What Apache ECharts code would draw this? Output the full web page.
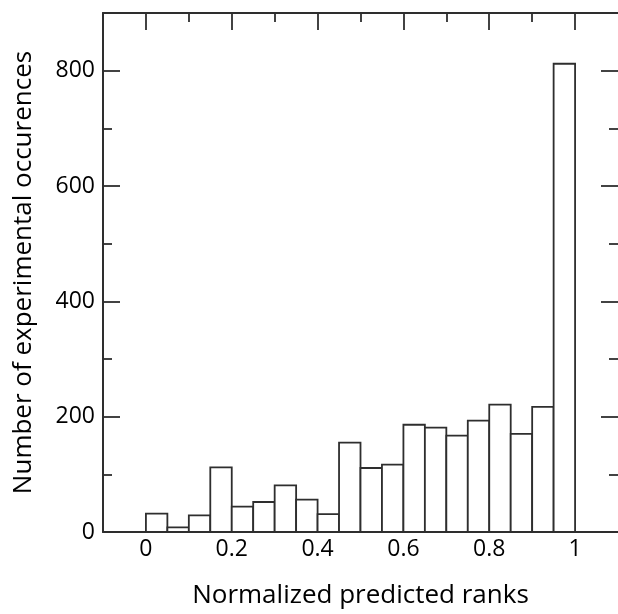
<!DOCTYPE html>
<html>
<head>
<meta charset="utf-8">
<script src="https://cdn.jsdelivr.net/npm/echarts@6/dist/echarts.min.js"></script>
<style>html,body{margin:0;padding:0;background:#fff;}#c{width:618px;height:614px;}</style>
</head>
<body>
<div id="c"></div>
<script>
// Histogram bins (width 0.05) and counts
const binStarts = [0, 0.05, 0.10, 0.15, 0.20, 0.25, 0.30, 0.35, 0.40, 0.45, 0.50, 0.55, 0.60, 0.65, 0.70, 0.75, 0.80, 0.85, 0.90, 0.95];
const binWidth = 0.05;
const counts = [32, 8, 29, 112, 44, 52, 81, 56, 31, 155, 111, 117, 186, 181, 167, 193, 221, 170, 217, 812];
const xLabels = [0, 0.2, 0.4, 0.6, 0.8, 1];
const xMinorTicks = [0.1, 0.3, 0.5, 0.7, 0.9];
const yLabels = [0, 200, 400, 600, 800];
const yMinorTicks = [100, 300, 500, 700];

const lineCol = '#2e2e2e';
const font = 'Open Sans';
const data = binStarts.map((s, i) => [s, s + binWidth, counts[i]]);

const chart = echarts.init(document.getElementById('c'));
const axisLine = { show: true, onZero: false, lineStyle: { color: lineCol, width: 2 } };
const noLine = { show: false, onZero: false };
const tickStyle = { color: lineCol, width: 1.8 };
const baseX = { type: 'value', min: -0.1, max: 1.1, splitLine: { show: false } };
const baseY = { type: 'value', min: 0, max: 900, splitLine: { show: false } };
chart.setOption({
  animation: false,
  grid: { left: 103, right: -1, top: 13, bottom: 81, containLabel: false },
  xAxis: [
    Object.assign({}, baseX, {
      position: 'bottom', axisLine: axisLine, axisTick: { show: false },
      axisLabel: { customValues: xLabels, fontFamily: font, fontSize: 23, color: '#000', margin: 6,
        formatter: v => String(+v.toFixed(1)) },
      name: 'Normalized predicted ranks', nameLocation: 'middle', nameGap: 51,
      nameTextStyle: { fontFamily: font, fontSize: 26, color: '#000' }
    }),
    Object.assign({}, baseX, {
      position: 'top', axisLine: axisLine,
      axisTick: { show: true, inside: true, length: 17, customValues: xLabels, lineStyle: tickStyle },
      axisLabel: { show: false }
    }),
    Object.assign({}, baseX, {
      position: 'top', axisLine: noLine,
      axisTick: { show: true, inside: true, length: 9, customValues: xMinorTicks, lineStyle: tickStyle },
      axisLabel: { show: false }
    })
  ],
  yAxis: [
    Object.assign({}, baseY, {
      position: 'left', axisLine: axisLine,
      axisTick: { show: true, inside: true, length: 17, customValues: yLabels, lineStyle: tickStyle },
      axisLabel: { customValues: yLabels, fontFamily: font, fontSize: 23, color: '#000', margin: 8 },
      name: 'Number of experimental occurences', nameLocation: 'middle', nameGap: 66,
      nameTextStyle: { fontFamily: font, fontSize: 26, color: '#000' }
    }),
    Object.assign({}, baseY, {
      position: 'left', axisLine: noLine,
      axisTick: { show: true, inside: true, length: 9, customValues: yMinorTicks, lineStyle: tickStyle },
      axisLabel: { show: false }
    }),
    Object.assign({}, baseY, {
      position: 'right', axisLine: noLine,
      axisTick: { show: true, inside: true, length: 17, customValues: yLabels, lineStyle: tickStyle },
      axisLabel: { show: false }
    }),
    Object.assign({}, baseY, {
      position: 'right', axisLine: noLine,
      axisTick: { show: true, inside: true, length: 9, customValues: yMinorTicks, lineStyle: tickStyle },
      axisLabel: { show: false }
    })
  ],
  series: [{
    type: 'custom',
    xAxisIndex: 0, yAxisIndex: 0,
    data: data,
    encode: { x: [0, 1], y: 2 },
    renderItem: function (params, api) {
      const p0 = api.coord([api.value(0), 0]);
      const p1 = api.coord([api.value(1), api.value(2)]);
      return {
        type: 'rect',
        shape: { x: p0[0], y: p1[1], width: p1[0] - p0[0], height: p0[1] - p1[1] },
        style: { fill: '#fff', stroke: lineCol, lineWidth: 1.8 }
      };
    }
  }]
});
</script>
</body>
</html>
